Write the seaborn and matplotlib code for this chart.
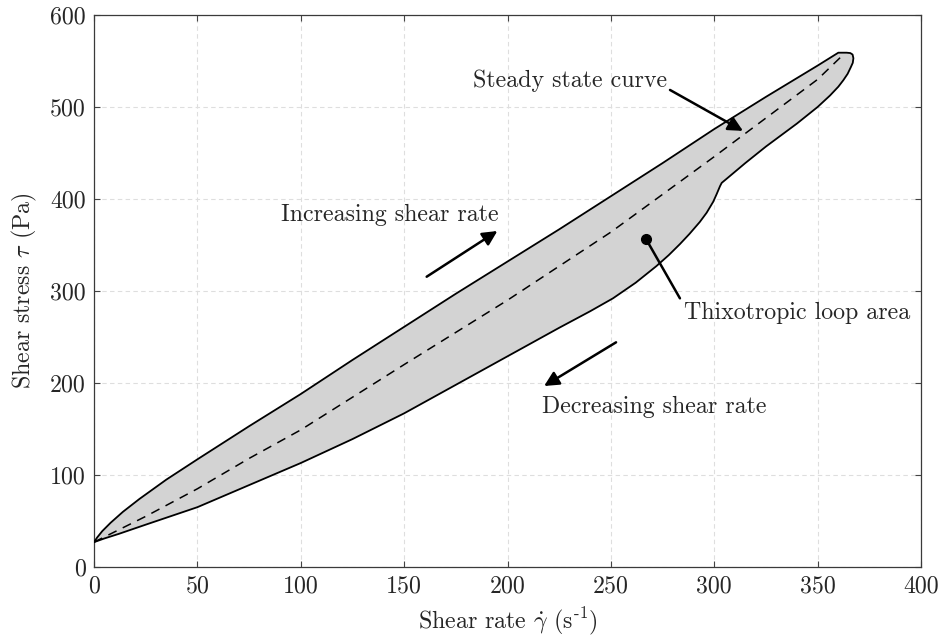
import numpy as np
import pandas as pd
import matplotlib
matplotlib.use("Agg")
import matplotlib.pyplot as plt
import seaborn as sns

# ---- data ----
up_x = [0, 1.5, 4, 8, 14, 22, 35, 50, 75, 100, 125, 150, 175, 200, 225, 250,
        275, 300, 325, 350, 360]
up_tau = [27, 32, 39, 48, 60, 74, 95, 117, 153, 188, 225, 261, 297, 332, 367, 403,
          439, 476, 511, 545, 559]

down_x = [364, 365.8, 366.9, 367.3, 367, 366, 364.5, 362.4, 360, 356, 350, 340,
          325, 315, 306, 303.6, 302.8, 301.1, 299.5, 296.3, 293, 288, 283.4,
          278, 272, 262, 251, 240, 225, 200, 175, 150, 125, 100, 75, 50, 25,
          12, 5, 0]
down_tau = [559, 558.6, 557, 553, 548, 543, 536, 529, 522, 512.5, 500, 482,
            457, 439, 422, 417.5, 414, 405, 397, 385, 375, 362, 351,
            339, 327, 309, 292, 278, 260, 229, 198, 167, 139, 113, 89, 65, 46,
            36, 31, 27]

steady_x = [0, 25, 50, 75, 100, 150, 200, 250, 300, 350, 362]
steady_tau = [27, 55, 85, 118, 149, 220, 290, 364, 446, 530, 556]

x_ticks = [0, 50, 100, 150, 200, 250, 300, 350, 400]
y_ticks = [0, 100, 200, 300, 400, 500, 600]

# ---- style ----
sns.set_theme(style="white")
plt.rcParams["font.family"] = ["cmr10", "DejaVu Serif"]
plt.rcParams["mathtext.fontset"] = "cm"
plt.rcParams["axes.formatter.use_mathtext"] = True
plt.rcParams["axes.unicode_minus"] = False

FS = 17.2

fig = plt.figure(figsize=(9.4, 6.37), dpi=100)
ax = fig.add_axes([0.1, 0.1099, 0.8798, 0.8666])

loop_x = up_x + down_x
loop_tau = up_tau + down_tau
ax.fill(loop_x, loop_tau, color="#d3d3d3", zorder=2, lw=0)

loop_df = pd.DataFrame({"x": loop_x, "tau": loop_tau})
sns.lineplot(data=loop_df, x="x", y="tau", sort=False, estimator=None,
             color="black", lw=1.3, ax=ax, zorder=3)
ax.lines[-1].set_solid_joinstyle("round")

steady_df = pd.DataFrame({"x": steady_x, "tau": steady_tau})
sns.lineplot(data=steady_df, x="x", y="tau", sort=False, estimator=None,
             color="black", lw=1.1, ax=ax, zorder=4, dashes=False)
ax.lines[-1].set_dashes((6, 4.5))

ax.set_xlim(0, 400)
ax.set_ylim(0, 600)
ax.set_xticks(x_ticks)
ax.set_yticks(y_ticks)
ax.set_xticklabels([str(v) for v in x_ticks], fontsize=FS)
ax.set_yticklabels([str(v) for v in y_ticks], fontsize=FS)
ax.tick_params(direction="in", length=4, width=0.8, color="#444444",
               top=True, right=True, left=True, bottom=True, pad=6)

ax.grid(True, color="#dedede", lw=0.8, ls=(0, (4, 3)), zorder=0)
ax.set_axisbelow(True)
for s in ax.spines.values():
    s.set_color("#3a3a3a")
    s.set_linewidth(0.9)

ax.set_xlabel(r"Shear rate $\dot{\gamma}$ (s$^{\mathrm{\text{-}1}}$)", fontsize=FS, labelpad=6)
ax.set_ylabel(r"Shear stress $\tau$ (Pa)", fontsize=FS, labelpad=8)

arrow = dict(arrowstyle="-|>", lw=1.8, color="black", mutation_scale=22,
             shrinkA=0, shrinkB=0)

ax.annotate("", xy=(313.9, 474), xytext=(278.6, 518.5), arrowprops=arrow, zorder=6)
ax.text(183.5, 528, "Steady state curve", fontsize=FS, ha="left", va="center")

ax.annotate("", xy=(195.1, 365.2), xytext=(160.9, 315.5), arrowprops=arrow, zorder=6)
ax.text(90.5, 383, "Increasing shear rate", fontsize=FS, ha="left", va="center")

ax.annotate("", xy=(217.7, 196.7), xytext=(252.5, 244.2), arrowprops=arrow, zorder=6)
ax.text(216.7, 174, "Decreasing shear rate", fontsize=FS, ha="left", va="center")

ax.plot([267, 283.4], [356.5, 292], color="black", lw=1.8, zorder=6)
ax.plot([267], [356.5], marker="o", ms=7, color="black", zorder=7)
ax.text(285.3, 276, "Thixotropic loop area", fontsize=FS, ha="left", va="center")

fig.savefig("out.png", dpi=100)
